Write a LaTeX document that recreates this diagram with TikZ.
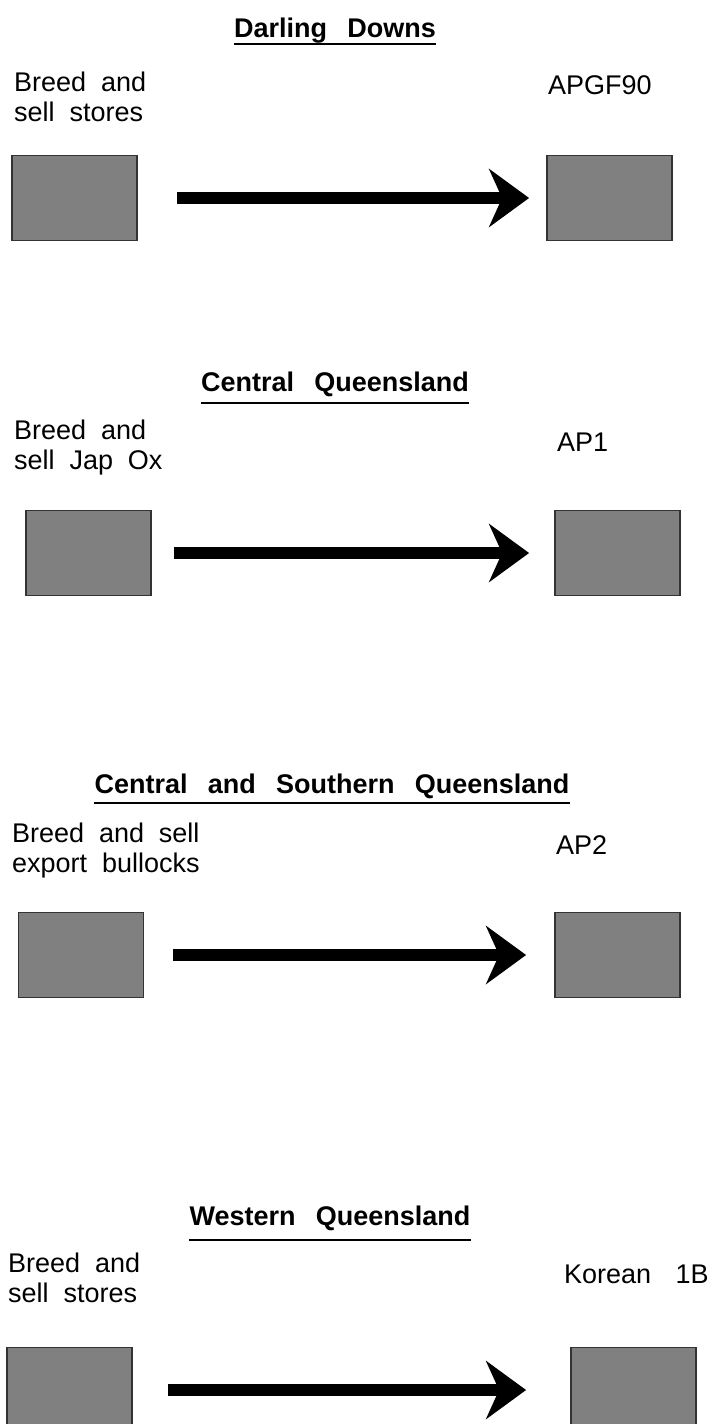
\documentclass[tikz,border=0pt]{standalone}
\usepackage{fontspec}
\setmainfont{Liberation Sans}
\usetikzlibrary{arrows.meta}
\newcommand{\regionfont}{\bfseries\fontsize{27}{30}\selectfont\spaceskip=0.75em\relax}
\newcommand{\labelfont}{\fontsize{27}{30}\selectfont\spaceskip=0.55em\relax}
\newcommand{\breedfont}{\fontsize{27}{30}\selectfont\spaceskip=0.9em\relax}

\begin{document}
\begin{tikzpicture}[x=1pt,y=-1pt]
\tikzstyle{stockbox}=[rectangle,draw=black!80,line width=1.8pt,fill=black!50,minimum width=125pt,minimum height=85pt,inner sep=0pt]
\tikzstyle{region}=[inner sep=0pt,anchor=base,font=\regionfont]
\tikzstyle{activity}=[inner sep=0pt,anchor=north west,align=left,font=\labelfont]
\tikzstyle{breed}=[inner sep=0pt,anchor=north west,font=\breedfont]
\tikzstyle{rule}=[line width=2.4pt]
\tikzstyle{flow}=[line width=12pt,-{Stealth[length=40pt,width=58pt,inset=13pt]}]
\useasboundingbox (0,0) rectangle (714,1424);

% Darling Downs
\node[region](T1) at (335,37) {Darling Downs};
\node[activity](A1) at (14,72) {Breed and\\sell stores};
\node[breed](B1) at (548,75) {APGF90};
\node[stockbox](L1) at (74.5,198) {};
\node[stockbox](R1) at (609.5,198) {};
\draw[rule] ([yshift=-7pt]T1.base west) -- ([yshift=-7pt]T1.base east);
\draw[flow,shorten <=39pt,shorten >=17pt] (L1) -- (R1);

% Central Queensland
\node[region](T2) at (335,391) {Central Queensland};
\node[activity](A2) at (14,420) {Breed and\\sell Jap Ox};
\node[breed](B2) at (557,433) {AP1};
\node[stockbox](L2) at (88.5,553) {};
\node[stockbox](R2) at (617.5,553) {};
\draw[rule] ([yshift=-12pt]T2.base west) -- ([yshift=-12pt]T2.base east);
\draw[flow,shorten <=22pt,shorten >=25pt] (L2) -- (R2);

% Central and Southern Queensland
\node[region](T3) at (332,793) {Central and Southern Queensland};
\node[activity](A3) at (12,823) {Breed and sell\\export bullocks};
\node[breed](B3) at (556,835) {AP2};
\node[stockbox](L3) at (81,955) {};
\node[stockbox](R3) at (617.5,955) {};
\draw[rule] ([yshift=-10pt]T3.base west) -- ([yshift=-10pt]T3.base east);
\draw[flow,shorten <=29pt,shorten >=28pt] (L3) -- (R3);

% Western Queensland
\node[region](T4) at (330,1225) {Western Queensland};
\node[activity](A4) at (8,1253) {Breed and\\sell stores};
\node[breed](B4) at (564,1265) {Korean 1B};
\node[stockbox](L4) at (69.5,1390) {};
\node[stockbox](R4) at (633.5,1390) {};
\draw[rule] ([yshift=-15pt]T4.base west) -- ([yshift=-15pt]T4.base east);
\draw[flow,shorten <=35pt,shorten >=44pt] (L4) -- (R4);
\end{tikzpicture}
\end{document}
